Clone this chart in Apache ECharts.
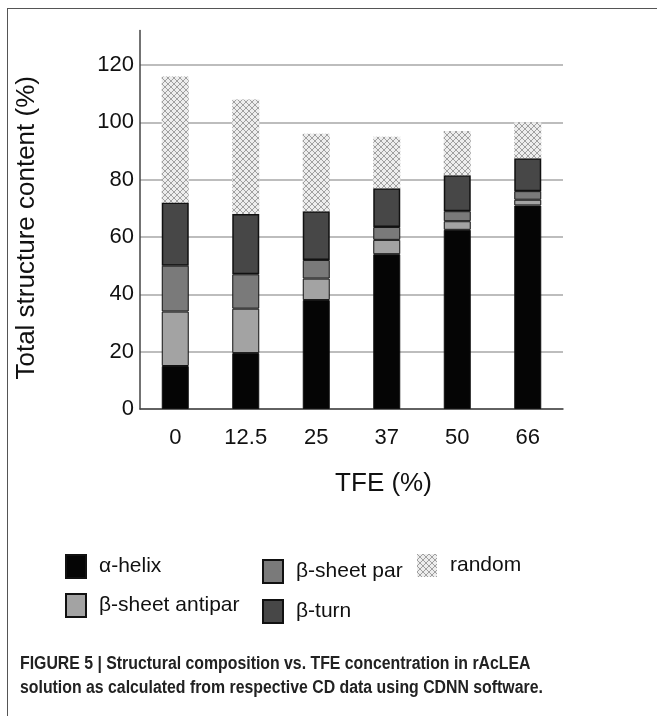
<!DOCTYPE html>
<html>
<head>
<meta charset="utf-8">
<script src="https://cdn.jsdelivr.net/npm/echarts@6/dist/echarts.min.js"></script>
<style>
html,body{margin:0;padding:0;background:#fff;width:657px;height:716px;overflow:hidden;}
#frame{position:absolute;left:7px;top:8px;width:700px;height:720px;border-left:1.5px solid #555;border-top:1.5px solid #555;z-index:2;pointer-events:none;}
#chart{position:absolute;left:0;top:0;width:657px;height:716px;z-index:1;}
</style>
</head>
<body>
<div id="frame"></div>
<div id="chart"></div>
<script>
// ---- data ----
var categories = ['0', '12.5', '25', '37', '50', '66'];
var alphaHelix = [15, 19.5, 38, 54, 62.5, 71];
var betaSheetAntipar = [19, 15.5, 7.5, 5, 3, 2];
var betaSheetPar = [16, 12, 6.5, 4.5, 3.5, 3];
var betaTurn = [22, 21, 17, 13.5, 12.5, 11.5];
var randomCoil = [44, 40, 27, 18, 15.5, 12.5];
var seriesNames = ['\u03b1-helix', '\u03b2-sheet antipar', '\u03b2-sheet par', '\u03b2-turn', 'random'];
var yMin = 0, yMax = 132, yInterval = 20;
var captionLines = [
  'FIGURE 5 | Structural composition vs. TFE concentration in rAcLEA',
  'solution as calculated from respective CD data using CDNN software.'
];

// pattern for "random"
function makePattern() {
  var c = document.createElement('canvas');
  c.width = 6; c.height = 6;
  var g = c.getContext('2d');
  g.fillStyle = '#ededed';
  g.fillRect(0, 0, 6, 6);
  g.strokeStyle = '#a0a0a0';
  g.lineWidth = 1;
  g.beginPath();
  g.moveTo(0, 0); g.lineTo(6, 6);
  g.moveTo(6, 0); g.lineTo(0, 6);
  g.stroke();
  return c;
}
var pattern = { image: makePattern(), repeat: 'repeat' };

var font = "'Liberation Sans', Arial, Helvetica, sans-serif";
var chart = echarts.init(document.getElementById('chart'), null, { renderer: 'canvas' });

function barSeries(name, data, color, border) {
  return {
    name: name,
    type: 'bar',
    stack: 'total',
    barWidth: 27,
    data: data,
    itemStyle: { color: color, borderColor: '#111', borderWidth: border },
    emphasis: { disabled: true }
  };
}

var legendCommon = {
  orient: 'vertical',
  icon: 'rect',
  itemWidth: 20,
  itemHeight: 23,
  selectedMode: false,
  textStyle: { fontFamily: font, fontSize: 21, color: '#111', padding: [0, 0, 0, 8] }
};

var option = {
  animation: false,
  backgroundColor: '#fff',
  textStyle: { fontFamily: font },
  grid: { left: 140, right: 94, top: 30.6, bottom: 307, containLabel: false },
  graphic: [{
    type: 'text',
    left: 20, top: 652,
    scaleX: 0.88,
    style: {
      text: captionLines.join('\n'),
      font: "bold 18px 'Liberation Sans', Arial, sans-serif",
      lineHeight: 24,
      fill: '#222'
    }
  }],
  legend: [
    Object.assign({}, legendCommon, { left: 60, top: 549, itemGap: 14, data: [seriesNames[0], seriesNames[1]] }),
    Object.assign({}, legendCommon, { left: 257, top: 554, itemGap: 15, data: [seriesNames[2], seriesNames[3]] }),
    Object.assign({}, legendCommon, { left: 412, top: 549, data: [seriesNames[4]] })
  ],
  xAxis: {
    type: 'category',
    data: categories,
    name: 'TFE (%)',
    nameLocation: 'middle',
    nameGap: 62,
    nameTextStyle: { fontFamily: font, fontSize: 26, color: '#111', padding: [0, 0, 0, 64] },
    axisLine: { lineStyle: { color: '#444', width: 1.5 } },
    axisTick: { show: false },
    axisLabel: { fontFamily: font, fontSize: 22, color: '#111', margin: 18 }
  },
  yAxis: {
    type: 'value',
    min: yMin, max: yMax, interval: yInterval,
    name: 'Total structure content (%)',
    nameLocation: 'middle',
    nameGap: 100,
    nameTextStyle: { fontFamily: font, fontSize: 26, color: '#111', padding: [0, 16, 0, 0] },
    axisLine: { show: true, lineStyle: { color: '#444', width: 1.5 } },
    axisTick: { show: false },
    axisLabel: { fontFamily: font, fontSize: 22, color: '#111', margin: 6, showMaxLabel: false },
    splitLine: { show: true, lineStyle: { color: ['#bdbdbd', '#bdbdbd', '#bdbdbd', '#bdbdbd', '#bdbdbd', '#bdbdbd', '#bdbdbd', 'rgba(0,0,0,0)'], width: 2 } }
  },
  series: [
    barSeries(seriesNames[0], alphaHelix, '#050505', 1),
    barSeries(seriesNames[1], betaSheetAntipar, '#a3a3a3', 1),
    barSeries(seriesNames[2], betaSheetPar, '#7a7a7a', 1),
    barSeries(seriesNames[3], betaTurn, '#474747', 1.5),
    barSeries(seriesNames[4], randomCoil, pattern, 0)
  ]
};
chart.setOption(option);
</script>
</body>
</html>
